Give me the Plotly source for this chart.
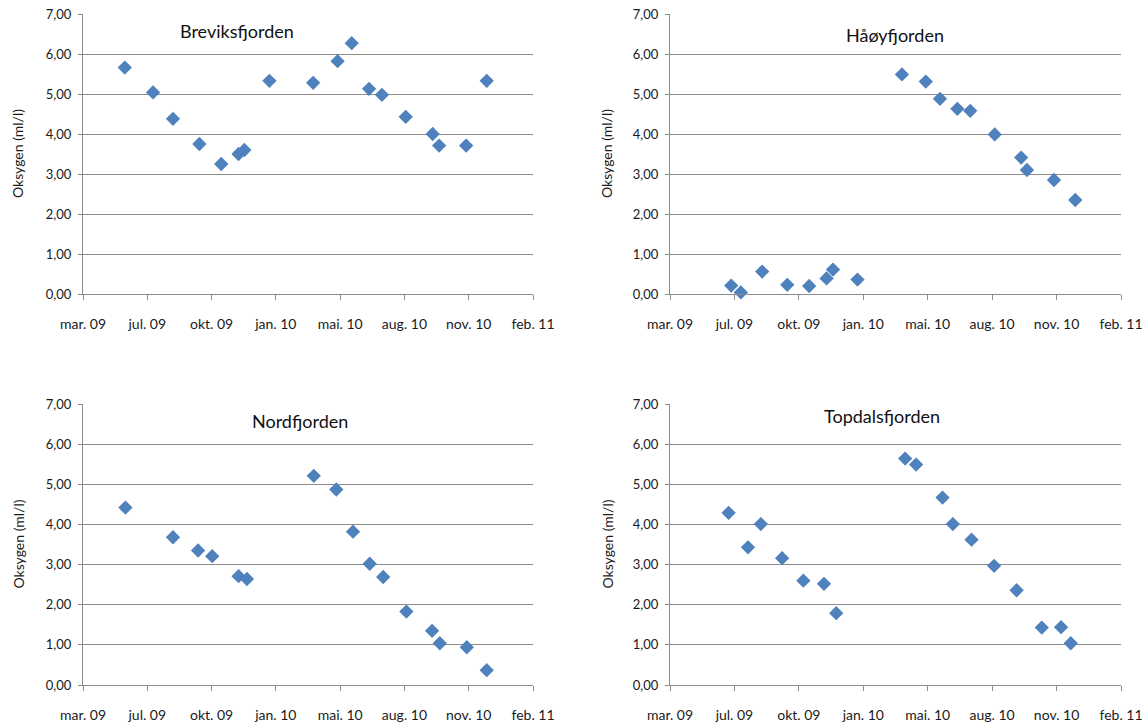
import plotly.graph_objects as go

# ---- data ----
brev_dates = ["2009-06-01", "2009-07-15", "2009-08-15", "2009-09-25", "2009-10-29", "2009-11-25",
              "2009-12-04", "2010-01-12", "2010-03-21", "2010-04-28", "2010-05-20", "2010-06-16",
              "2010-07-06", "2010-08-12", "2010-09-23", "2010-10-03", "2010-11-14", "2010-12-16"]
brev_vals = [5.66, 5.04, 4.38, 3.75, 3.25, 3.50, 3.60, 5.33, 5.28, 5.82, 6.27, 5.13,
             4.98, 4.43, 4.00, 3.71, 3.71, 5.33]

haoy_dates = ["2009-07-01", "2009-07-16", "2009-08-18", "2009-09-26", "2009-10-30", "2009-11-26",
              "2009-12-06", "2010-01-13", "2010-03-23", "2010-04-29", "2010-05-21", "2010-06-17",
              "2010-07-07", "2010-08-14", "2010-09-24", "2010-10-03", "2010-11-14", "2010-12-17"]
haoy_vals = [0.21, 0.04, 0.56, 0.23, 0.20, 0.39, 0.61, 0.36, 5.49, 5.31, 4.88, 4.63,
             4.58, 3.99, 3.41, 3.10, 2.85, 2.35]

nord_dates = ["2009-06-02", "2009-08-15", "2009-09-23", "2009-10-15", "2009-11-25", "2009-12-08",
              "2010-03-22", "2010-04-26", "2010-05-22", "2010-06-17", "2010-07-08", "2010-08-13",
              "2010-09-22", "2010-10-04", "2010-11-15", "2010-12-16"]
nord_vals = [4.42, 3.68, 3.35, 3.21, 2.71, 2.64, 5.21, 4.87, 3.82, 3.02, 2.69, 1.83,
             1.35, 1.04, 0.94, 0.37]

topd_dates = ["2009-06-27", "2009-07-27", "2009-08-16", "2009-09-18", "2009-10-21", "2009-11-22",
              "2009-12-11", "2010-03-28", "2010-04-14", "2010-05-25", "2010-06-10", "2010-07-09",
              "2010-08-13", "2010-09-17", "2010-10-26", "2010-11-25", "2010-12-10"]
topd_vals = [4.29, 3.43, 4.01, 3.16, 2.60, 2.52, 1.79, 5.64, 5.49, 4.67, 4.01, 3.62,
             2.97, 2.36, 1.43, 1.44, 1.04]

tick_dates = ["2009-03-28", "2009-07-06", "2009-10-14", "2010-01-22", "2010-05-02",
              "2010-08-10", "2010-11-18", "2011-02-26"]
tick_text = ["mar. 09", "jul. 09", "okt. 09", "jan. 10", "mai. 10", "aug. 10", "nov. 10", "feb. 11"]

panels = [
    ("Breviksfjorden", brev_dates, brev_vals),
    ("Håøyfjorden", haoy_dates, haoy_vals),
    ("Nordfjorden", nord_dates, nord_vals),
    ("Topdalsfjorden", topd_dates, topd_vals),
]

W, H = 1147, 722
# pixel boxes in window coordinates (left, right, top, bottom)
boxes = [(83, 533, 14, 294), (670, 1121, 14, 294), (83, 533, 404, 685), (670, 1121, 404, 685)]
title_pos = [(237, 31), (895, 35), (300, 421), (882, 416)]
ytitle_x = [18, 607, 18, 607]

FONT = "Lato"
GRID = "#8c8c8c"
MARK = "#4F81BD"


def px(x):
    return x / W


def py(y):
    return 1 - y / H


fig = go.Figure()
annotations = []
for i, ((name, d, v), (l, r, t, b)) in enumerate(zip(panels, boxes)):
    n = "" if i == 0 else str(i + 1)
    fig.add_trace(go.Scatter(x=d, y=v, mode="markers", xaxis="x" + n, yaxis="y" + n,
                             marker=dict(symbol="diamond", size=11, color=MARK,
                                         line=dict(width=0)),
                             showlegend=False, cliponaxis=False))
    fig.layout["xaxis" + n] = dict(
        domain=[px(l), px(r)], anchor="y" + n, type="date", automargin=False,
        range=[tick_dates[0], tick_dates[-1]], ticklabeloverflow="allow",
        tickmode="array", tickvals=tick_dates, ticktext=tick_text,
        showgrid=False, showline=True, linecolor=GRID, linewidth=1,
        ticks="outside", ticklen=5, tickcolor=GRID, tickwidth=1,
        ticklabelstandoff=12,
        tickfont=dict(family=FONT, size=14, color="#1a1a1a"), zeroline=False,
    )
    fig.layout["yaxis" + n] = dict(
        domain=[py(b), py(t)], anchor="x" + n, automargin=False,
        range=[0, 7], tickmode="array", tickvals=[0, 1, 2, 3, 4, 5, 6, 7],
        tickformat=".2f", ticklabeloverflow="allow",
        showgrid=True, gridcolor=GRID, gridwidth=1,
        showline=True, linecolor=GRID, linewidth=1,
        ticks="outside", ticklen=4, tickcolor=GRID, tickwidth=1,
        ticklabelstandoff=4,
        tickfont=dict(family=FONT, size=13, color="#1a1a1a"), zeroline=False,
    )
    tx, ty = title_pos[i]
    annotations.append(dict(text=name, x=px(tx), y=py(ty), xref="paper", yref="paper",
                            showarrow=False, xanchor="center", yanchor="middle",
                            font=dict(family=FONT, size=18, color="#111111")))
    annotations.append(dict(text="Oksygen (ml/l)", x=px(ytitle_x[i]), y=py((t + b) / 2),
                            xref="paper", yref="paper", showarrow=False, textangle=-90,
                            xanchor="center", yanchor="middle",
                            font=dict(family=FONT, size=14, color="#1a1a1a")))

fig.update_layout(
    width=W, height=H, margin=dict(l=0, r=0, t=0, b=0),
    paper_bgcolor="white", plot_bgcolor="white",
    separators=", ", annotations=annotations,
)

# remove the default page margin so the figure fills the window exactly
fig.write_html("out.html", config={"displayModeBar": False},
               post_script="document.body.style.margin='0';document.body.style.overflow='hidden';")
